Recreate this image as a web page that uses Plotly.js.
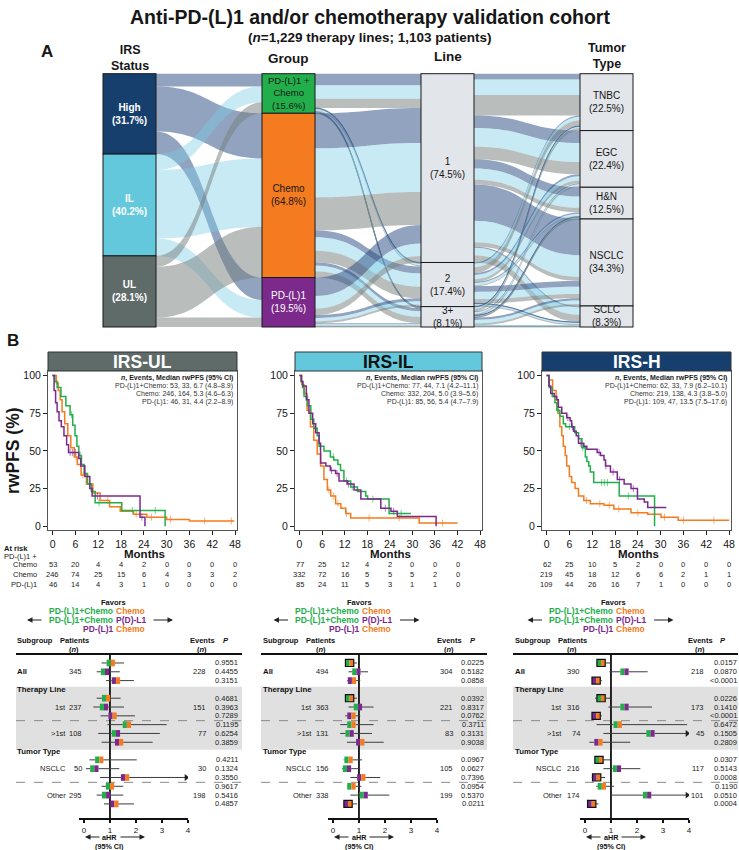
<!DOCTYPE html>
<html>
<head>
<meta charset="utf-8">
<script src="https://cdn.plot.ly/plotly-3.0.1.min.js"></script>
<style>html,body{margin:0;padding:0;background:#fff;}#chart{width:739px;height:850px;}</style>
</head>
<body>
<div id="chart"></div>
<script>
// ================= DATA =================
// Panel A (alluvial): therapy lines
const irsLabels = ['High', 'IL', 'UL'];
const groupLabels = ['PD-(L)1 +<br>Chemo', 'Chemo', 'PD-(L)1'];
const lineLabels = ['1', '2', '3+'];
const tumorLabels = ['TNBC', 'EGC', 'H&N', 'NSCLC', 'SCLC'];
// group x line counts, per IRS level
const glHigh = [[56, 4, 2], [170, 34, 15], [90, 14, 5]];
const glIL   = [[65, 9, 3], [238, 65, 29], [60, 16, 9]];
const glUL   = [[45, 6, 2], [160, 56, 30], [32, 10, 4]];
// line x tumor counts, per IRS level
const ltHigh = [[28, 60, 45, 176, 7], [6, 10, 6, 28, 2], [2, 5, 3, 12, 0]];
const ltIL   = [[75, 92, 55, 105, 36], [17, 20, 10, 35, 8], [8, 8, 5, 16, 4]];
const ltUL   = [[100, 60, 22, 20, 35], [28, 13, 5, 20, 6], [12, 7, 3, 10, 4]];
const totalPatients = 1103;

// Panel B: Kaplan-Meier curves (months, rwPFS %)
const kmPanelNames = ['IRS-UL', 'IRS-IL', 'IRS-H'];
const pcT_UL = [0, 0.6, 1.2, 2.2, 3.5, 4.6, 5.3, 5.9, 6.4, 6.9, 7.6, 8.3, 9.2, 10.2, 11.2, 18.2, 29.6];
const pcS_UL = [100, 96, 92, 86, 80, 74, 67, 60, 53, 47, 41, 35, 28, 23, 15.5, 10.5, 0];
const cT_UL = [0, 1.0, 1.5, 2.0, 2.5, 3.2, 4.0, 4.8, 5.7, 6.5, 7.5, 8.9, 10.6, 12.5, 15.0, 17.8, 21.3, 24.8, 30.0, 36.0, 47.8];
const cS_UL = [100, 95, 90, 84, 76, 68, 60, 52, 46, 41, 34, 28, 22, 17, 13, 10, 8, 6, 4.5, 3.5, 3.5];
const pT_UL = [0, 0.4, 0.8, 1.2, 1.7, 2.3, 3.0, 3.7, 4.2, 6.9, 7.4, 8.5, 9.8, 10.4, 23.0, 24.3];
const pS_UL = [100, 90, 82, 76, 70, 66, 60, 54, 49, 45, 40, 33, 25, 20, 6, 0];

const pcT_IL = [0, 0.4, 0.8, 1.2, 2.1, 3.0, 3.8, 4.7, 5.2, 6.5, 8.2, 9.1, 10.2, 10.9, 11.8, 13.6, 15.4, 17.6, 18.1, 23.8, 29.6];
const pcS_IL = [100, 96, 92, 86, 80, 71, 65, 60, 53, 50, 46, 44, 41, 37, 30, 26, 23, 20, 18, 8.5, 8.5];
const cT_IL = [0, 0.6, 1.2, 2.0, 2.9, 3.8, 4.7, 5.6, 6.5, 7.4, 8.3, 9.6, 11.0, 12.3, 13.6, 31.8, 42.0];
const cS_IL = [100, 94, 88, 77, 66, 57, 48, 40, 31, 24, 20, 15, 12, 8.5, 5.5, 2.2, 2.2];
const pT_IL = [0, 0.5, 0.9, 1.8, 2.5, 3.5, 4.3, 5.2, 5.6, 7.0, 8.2, 9.6, 10.5, 12.7, 14.5, 16.3, 21.6, 24.3, 26.0, 36.3];
const pS_IL = [100, 96, 93, 84, 75, 68, 62, 55, 42, 40, 37, 35, 30, 28, 24, 18, 12, 10, 6.5, 0];

const pcT_H = [0, 0.7, 1.5, 2.2, 2.7, 3.5, 4.4, 5.0, 7.4, 8.4, 9.3, 10.2, 10.6, 11.1, 11.5, 12.4, 19.1, 28.4];
const pcS_H = [100, 92, 86, 82, 77, 73, 68, 66, 62, 58, 52, 46, 43, 40, 36, 29, 20, 0];
const cT_H = [0, 0.7, 1.6, 2.5, 3.0, 3.5, 4.0, 4.4, 4.9, 5.3, 6.0, 6.6, 7.5, 8.4, 9.8, 11.5, 15.1, 17.7, 22.2, 26.6, 30.1, 34.6, 48.0];
const cS_H = [100, 97, 90, 84, 75, 66, 60, 53, 47, 40, 33, 29, 25, 20, 17, 15, 14, 11.5, 9, 8, 6, 4, 4];
const pT_H = [0, 0.6, 1.1, 2.0, 2.7, 3.1, 4.0, 5.3, 6.2, 6.6, 7.1, 7.8, 8.4, 9.8, 10.6, 13.3, 14.2, 15.1, 15.5, 16.8, 18.6, 20.4, 22.2, 23.9, 25.7, 26.6, 31.5];
const pS_H = [100, 93, 88, 86, 84, 79, 75, 72, 70, 66, 63, 60, 55, 53, 51, 49, 47, 44, 40, 36, 31, 28, 25, 18, 16, 12.5, 12.5];

// censoring times
const pcCens_UL = [5.0, 7.3, 12.2, 21.0, 27.0];
const cCens_UL = [6.2, 8.0, 14.5, 22.0, 26.0, 31.0, 40.0, 47.0];
const pCens_UL = [4.6, 5.2, 6.0, 11.8, 23.5];
const pcCens_IL = [5.5, 9.0, 12.5, 14.0, 19.5, 27.0];
const cCens_IL = [7.8, 9.0, 10.2, 12.5, 18.5, 26.5, 38.0];
const pCens_IL = [8.5, 10.0, 13.0, 22.8, 25.0];
const pcCens_H = [3.0, 6.0, 9.5, 14.5, 15.2, 16.0, 21.5];
const cCens_H = [10.5, 14.0, 16.5, 19.0, 24.0, 31.0, 36.0, 44.0];
const pCens_H = [5.6, 6.8, 9.0, 13.8, 15.6, 17.5, 19.2, 22.8];

// legend stats: n, events, median, lower, upper
const statPC_UL = [53, 33, 6.7, 4.8, 8.9], statC_UL = [246, 164, 5.3, 4.6, 6.3], statP_UL = [46, 31, 4.4, 2.2, 8.9];
const statPC_IL = [77, 44, 7.1, 4.2, 11.1], statC_IL = [332, 204, 5.0, 3.9, 5.6], statP_IL = [85, 56, 5.4, 4.7, 7.9];
const statPC_H = [62, 33, 7.9, 6.2, 10.1], statC_H = [219, 138, 4.3, 3.8, 5.0], statP_H = [109, 47, 13.5, 7.5, 17.6];

// number at risk
const riskMonths = [0, 6, 12, 18, 24, 30, 36, 42, 48];
const arPC_UL = [53, 20, 4, 4, 2, 0, 0, 0, 0], arC_UL = [246, 74, 25, 15, 6, 4, 3, 3, 2], arP_UL = [46, 14, 4, 3, 1, 0, 0, 0, 0];
const arPC_IL = [77, 25, 12, 4, 2, 0, 0, 0], arC_IL = [332, 72, 16, 5, 5, 5, 2, 0], arP_IL = [85, 24, 11, 5, 3, 1, 1, 0];
const arPC_H = [62, 25, 10, 5, 2, 0, 0, 0, 0], arC_H = [219, 45, 18, 12, 6, 6, 2, 1, 1], arP_H = [109, 44, 26, 16, 7, 1, 0, 0, 0];

// Forest plots: rows = [All, 1st, >1st, NSCLC, Other] x [PC vs C, PC vs P, P vs C]
const subgroups = ['All', '1st', '>1st', 'NSCLC', 'Other'];
const nUL = [345, 237, 108, 50, 295], evUL = [228, 151, 77, 30, 198];
const nIL = [494, 363, 131, 156, 338], evIL = [304, 221, 83, 105, 199];
const nH = [390, 316, 74, 216, 174], evH = [218, 173, 45, 117, 101];
const hrUL = [1.03, 0.81, 1.23, 0.85, 0.77, 1.10, 1.65, 1.23, 1.35, 0.59, 0.40, 1.58, 1.00, 0.85, 1.17];
const loUL = [0.68, 0.49, 0.85, 0.49, 0.36, 0.64, 0.90, 0.55, 0.68, 0.21, 0.08, 0.62, 0.68, 0.49, 0.77];
const hiUL = [1.54, 1.38, 1.92, 1.41, 1.54, 1.96, 3.18, 2.92, 2.64, 2.03, 1.36, 5.00, 1.51, 1.51, 1.92];
const pUL = ['0.9551', '0.4455', '0.3151', '0.4681', '0.3963', '0.7289', '0.1195', '0.6254', '0.3859', '0.4211', '0.1324', '0.3550', '0.9617', '0.5416', '0.4857'];
const hrIL = [0.64, 0.90, 0.73, 0.64, 0.96, 0.71, 0.71, 0.64, 1.05, 0.60, 0.54, 1.09, 0.71, 1.18, 0.58];
const loIL = [0.47, 0.60, 0.54, 0.47, 0.60, 0.47, 0.28, 0.28, 0.54, 0.41, 0.35, 0.67, 0.54, 0.67, 0.41];
const hiIL = [0.92, 1.35, 1.05, 0.92, 1.56, 1.05, 1.56, 1.50, 1.95, 1.12, 1.05, 1.82, 1.09, 2.17, 0.92];
const pIL = ['0.0225', '0.5182', '0.0858', '0.0392', '0.8317', '0.0762', '0.3711', '0.3131', '0.9038', '0.0967', '0.0627', '0.7396', '0.0954', '0.5370', '0.0211'];
const hrH = [0.62, 1.52, 0.43, 0.62, 1.52, 0.43, 1.26, 2.52, 0.52, 0.54, 1.23, 0.45, 0.65, 2.39, 0.26];
const loH = [0.43, 0.94, 0.30, 0.39, 0.90, 0.26, 0.45, 0.71, 0.17, 0.35, 0.71, 0.26, 0.43, 0.97, 0.13];
const hiH = [0.97, 2.41, 0.65, 0.97, 2.58, 0.65, 3.94, 5.00, 1.74, 0.97, 2.13, 0.77, 1.12, 5.00, 0.52];
const pH = ['0.0157', '0.0870', '<0.0001', '0.0226', '0.1410', '<0.0001', '0.6472', '0.1505', '0.2809', '0.0307', '0.5143', '0.0008', '0.1190', '0.0510', '0.0004'];

// ================= STYLE / HELPERS =================
const FONT = '"Liberation Sans", Arial, Helvetica, sans-serif';
const W = 739, H = 850;
const px = v => v / W, py = v => 1 - v / H;
const sum = a => a.reduce((s, v) => s + v, 0);
const esc = s => String(s).replace(/&/g, '&amp;').replace(/</g, '&lt;').replace(/>/g, '&gt;');
const GREEN = '#22ae4b', ORANGE = '#f47b20', PURPLE = '#7b2a8c';
const IRS_COL = ['#173f6e', '#63c8dc', '#5f6b68'];
const LINK_COL = ['rgba(38,72,128,0.5)', 'rgba(125,205,230,0.42)', 'rgba(115,126,124,0.5)'];
const GRAY_NODE = '#e2e5e9';
const TXT = '#161616';

const data = [], annotations = [], shapes = [];
function fnt(size, color) { return {family: FONT, size: size, color: color || TXT}; }
function ann(text, x, y, size, o) {
  annotations.push(Object.assign({text: text, x: x, y: y, xref: 'paper', yref: 'paper', showarrow: false,
    xanchor: 'center', yanchor: 'middle', borderpad: 0, borderwidth: 0, font: fnt(size)}, o || {}));
}

// ================= TITLES =================
const glAll = [glHigh, glIL, glUL];
const ltAll = [ltHigh, ltIL, ltUL];
const irsTot = glAll.map(m => sum(m.map(sum)));
const groupTot = groupLabels.map((_, g) => sum(glAll.map(m => sum(m[g]))));
const lineTot = lineLabels.map((_, l) => sum(glAll.map(m => sum(m.map(r => r[l])))));
const tumorTot = tumorLabels.map((_, t) => sum(ltAll.map(m => sum(m.map(r => r[t])))));
const total = sum(irsTot);
const fmtK = n => n.toLocaleString('en-US');

ann('<b>Anti-PD-(L)1 and/or chemotherapy validation cohort</b>', 0.5, py(17), 19.5);
ann('<b>(<i>n</i>=' + fmtK(total) + ' therapy lines; ' + fmtK(totalPatients) + ' patients)</b>', 0.5, py(38), 13.5);
ann('<b>A</b>', px(47), py(51), 17);
ann('<b>B</b>', px(13), py(340), 17);

// ================= SANKEY =================
const SK = {x0: 103, x1: 633, y0: 73.7, y1: 327};
const cols = [irsTot, groupTot, lineTot, tumorTot];
const colNames = [irsLabels, groupLabels, lineLabels, tumorLabels];
const colColors = [IRS_COL, [GREEN, ORANGE, PURPLE], [GRAY_NODE, GRAY_NODE, GRAY_NODE], tumorLabels.map(() => GRAY_NODE)];
const nodeX = [0.05, 0.35, 0.65, 0.95];
const nodeLabels = [], nodeColors = [], nx = [], ny = [], offs = [];
let off = 0;
cols.forEach((c, ci) => {
  offs.push(off);
  let cum = 0;
  c.forEach((v, i) => {
    nodeLabels.push(colNames[ci][i].replace(/<br>/g, ' '));
    nodeColors.push(colColors[ci][i]);
    nx.push(nodeX[ci]);
    const yc = (cum + v / 2) / total;
    ny.push(yc);
    cum += v;
    const pct = (v / total * 100).toFixed(1);
    let color = TXT, bold = false;
    if (ci === 0) { color = '#fff'; bold = true; }
    if (ci === 1 && i === 2) color = '#fff';
    const txt = esc(colNames[ci][i]).replace(/&lt;br&gt;/g, '<br>') + '<br>(' + pct + '%)';
    const fs = ci === 1 && i === 0 ? 9.5 : 10;
    ann(bold ? '<b>' + txt + '</b>' : txt,
        px(SK.x0 + nodeX[ci] * (SK.x1 - SK.x0)), py(SK.y0 + yc * (SK.y1 - SK.y0)), fs, {font: fnt(fs, color)});
  });
  off += c.length;
});
const src = [], tgt = [], val = [], lcol = [];
function link(s, t, v, k) { if (v > 0) { src.push(s); tgt.push(t); val.push(v); lcol.push(LINK_COL[k]); } }
glAll.forEach((m, k) => m.forEach((row, g) => link(offs[0] + k, offs[1] + g, sum(row), k)));
groupLabels.forEach((_, g) => lineLabels.forEach((_, l) => glAll.forEach((m, k) => link(offs[1] + g, offs[2] + l, m[g][l], k))));
lineLabels.forEach((_, l) => tumorLabels.forEach((_, t) => ltAll.forEach((m, k) => link(offs[2] + l, offs[3] + t, m[l][t], k))));

data.push({
  type: 'sankey', arrangement: 'fixed', hoverinfo: 'skip',
  domain: {x: [px(SK.x0), px(SK.x1)], y: [py(SK.y1), py(SK.y0)]},
  node: {pad: 0, thickness: 53, label: nodeLabels, color: nodeColors, x: nx, y: ny,
         line: {color: '#1a1a1a', width: 1}, hoverinfo: 'skip'},
  link: {source: src, target: tgt, value: val, color: lcol, hoverinfo: 'skip'},
  textfont: {size: 1, color: 'rgba(0,0,0,0)'}
});
ann('<b>IRS<br>Status</b>', px(129.5), py(73), 12.5, {yanchor: 'bottom'});
ann('<b>Group</b>', px(288.5), py(58), 13.5);
ann('<b>Line</b>', px(447.5), py(57), 13.5);
ann('<b>Tumor<br>Type</b>', px(606.5), py(71), 12.5, {yanchor: 'bottom'});

// ================= KAPLAN-MEIER =================
function stepAt(t, s, c) { let v = s[0]; for (let i = 0; i < t.length; i++) { if (t[i] <= c) v = s[i]; } return v; }
const kmPanels = [
  {curves: [[cT_UL, cS_UL, cCens_UL, ORANGE], [pcT_UL, pcS_UL, pcCens_UL, GREEN], [pT_UL, pS_UL, pCens_UL, PURPLE]],
   stats: [statPC_UL, statC_UL, statP_UL], risk: [arPC_UL, arC_UL, arP_UL], bar: IRS_COL[2], barTxt: '#fff'},
  {curves: [[cT_IL, cS_IL, cCens_IL, ORANGE], [pcT_IL, pcS_IL, pcCens_IL, GREEN], [pT_IL, pS_IL, pCens_IL, PURPLE]],
   stats: [statPC_IL, statC_IL, statP_IL], risk: [arPC_IL, arC_IL, arP_IL], bar: IRS_COL[1], barTxt: '#111'},
  {curves: [[cT_H, cS_H, cCens_H, ORANGE], [pcT_H, pcS_H, pcCens_H, GREEN], [pT_H, pS_H, pCens_H, PURPLE]],
   stats: [statPC_H, statC_H, statP_H], risk: [arPC_H, arC_H, arP_H], bar: IRS_COL[0], barTxt: '#fff'}
];
const kmDomX = [[48, 237], [295, 482], [542, 731]];
const KMY = [371, 530];
const layoutAxes = {};
const statNames = ['PD-(L)1+Chemo', 'Chemo', 'PD-(L)1'];
kmPanels.forEach((P, i) => {
  const sfx = i === 0 ? '' : String(i + 1);
  const xa = 'x' + sfx, ya = 'y' + sfx;
  P.curves.forEach(([t, s, cens, col]) => {
    data.push({type: 'scatter', mode: 'lines', x: t, y: s, xaxis: xa, yaxis: ya, hoverinfo: 'skip',
               line: {shape: 'hv', color: col, width: 1.5}});
    data.push({type: 'scatter', mode: 'markers', x: cens, y: cens.map(c => stepAt(t, s, c)), xaxis: xa, yaxis: ya,
               hoverinfo: 'skip', marker: {symbol: 'line-ns-open', size: 5, color: col, opacity: 0.6, line: {width: 1, color: col}}});
  });
  layoutAxes['xaxis' + sfx] = {domain: [px(kmDomX[i][0]), px(kmDomX[i][1])], anchor: ya, range: [-1.2, 48.5],
    tickvals: riskMonths, ticks: 'outside', ticklen: 4, tickcolor: '#222', showline: true, mirror: true,
    linecolor: '#555', linewidth: 1, showgrid: false, zeroline: false, tickfont: fnt(10.5), fixedrange: true};
  layoutAxes['yaxis' + sfx] = {domain: [py(KMY[1]), py(KMY[0])], anchor: xa, range: [-2.5, 103],
    tickvals: [0, 25, 50, 75, 100], ticks: 'outside', ticklen: 4, tickcolor: '#222', showline: true, mirror: true,
    linecolor: '#555', linewidth: 1, showgrid: false, zeroline: false, tickfont: fnt(10.5), fixedrange: true};
  shapes.push({type: 'rect', xref: xa + ' domain', yref: ya + ' domain', x0: 0, x1: 1, y0: 1, y1: 1 + 19 / 159,
               fillcolor: P.bar, line: {color: '#333', width: 1}});
  annotations.push({text: '<b>' + kmPanelNames[i] + '</b>', xref: xa + ' domain', yref: ya + ' domain', x: 0.5, y: 1 + 9.5 / 159,
               showarrow: false, xanchor: 'center', yanchor: 'middle', borderpad: 0, font: fnt(17.5, P.barTxt)});
  const rightX = px(kmDomX[i][1] - 4);
  ann('<b><i>n</i>, Events, Median rwPFS (95% CI)</b>', rightX, py(378), 7, {xanchor: 'right', font: fnt(7, '#222')});
  P.stats.forEach((st, j) => {
    ann(statNames[j] + ': ' + st[0] + ', ' + st[1] + ', ' + st[2].toFixed(1) + ' (' + st[3].toFixed(1) + '–' + st[4].toFixed(1) + ')',
        rightX, py(386 + 8 * j), 7, {xanchor: 'right', font: fnt(7, '#333')});
  });
  ann('<b>Months</b>', px((kmDomX[i][0] + kmDomX[i][1]) / 2 + 2), py(554), 11.5);
  P.risk.forEach((row, j) => {
    row.forEach((v, k) => {
      annotations.push({text: String(v), x: riskMonths[k], xref: xa, y: py(564 + 10 * j), yref: 'paper',
        showarrow: false, xanchor: 'center', yanchor: 'middle', borderpad: 0, font: fnt(7.5, '#222')});
    });
  });
});
ann('<b>rwPFS (%)</b>', px(13), py(451), 17.5, {textangle: -90});
ann('<b>At risk</b>', px(4), py(548.5), 7.5, {xanchor: 'left'});
ann('PD-(L)1 +', px(37), py(556.5), 7.5, {xanchor: 'right', font: fnt(7.5, '#222')});
ann('Chemo', px(37), py(564), 7.5, {xanchor: 'right', font: fnt(7.5, '#222')});
ann('Chemo', px(37), py(574), 7.5, {xanchor: 'right', font: fnt(7.5, '#222')});
ann('PD-(L)1', px(37), py(584), 7.5, {xanchor: 'right', font: fnt(7.5, '#222')});

// ================= FOREST PLOTS =================
const forestSets = [
  {hr: hrUL, lo: loUL, hi: hiUL, p: pUL, n: nUL, ev: evUL},
  {hr: hrIL, lo: loIL, hi: hiIL, p: pIL, n: nIL, ev: evIL},
  {hr: hrH, lo: loH, hi: hiH, p: pH, n: nH, ev: evH}
];
const FP = [
  {zero: 84, dom: [79, 188], subR: 65.5, nR: 82, evR: 206, pR: 238, hL: 17, patL: 60, nHc: 74, evC: 202, pHd: 223, lineL: 16, lineR: 242, fav: 114},
  {zero: 333, dom: [328, 437], subR: 311.5, nR: 328.5, evR: 453, pR: 484, hL: 263, patL: 306, nHc: 321, evC: 449, pHd: 470, lineL: 261, lineR: 487, fav: 360.5},
  {zero: 585, dom: [580, 689], subR: 562, nR: 580, evR: 704, pR: 737, hL: 515, patL: 558, nHc: 572, evC: 700, pHd: 720, lineL: 513, lineR: 738, fav: 614.5}
];
const rowIdx = [0, 1, 2, 4, 5, 6, 7, 8, 9, 11, 12, 13, 14, 15, 16];
const midRow = [1, 5, 8, 12, 15];
const compColors = [[GREEN, ORANGE], [GREEN, PURPLE], [PURPLE, ORANGE]];
const HALF = 0.16, XMAX = 4.0, ARROW_X = 3.93;
const pNum = s => s.trim().startsWith('<') ? parseFloat(s.replace('<', '')) / 2 : parseFloat(s);

forestSets.forEach((F, fi) => {
  const L = FP[fi];
  const xa = 'x' + (4 + fi), ya = 'y' + (4 + fi);
  layoutAxes['xaxis' + (4 + fi)] = {domain: [px(L.dom[0]), px(L.dom[1])], anchor: ya, range: [-0.19, XMAX],
    tickvals: [0, 1, 2, 3, 4], ticks: 'outside', ticklen: 3, tickwidth: 1.5, tickcolor: '#111', showline: true,
    linecolor: '#111', linewidth: 2, showgrid: false, zeroline: false, tickfont: fnt(8), fixedrange: true};
  layoutAxes['yaxis' + (4 + fi)] = {domain: [py(818), py(654)], anchor: xa, range: [17.6, -1.02],
    visible: false, fixedrange: true};
  shapes.push({type: 'rect', xref: 'paper', yref: ya, x0: px(L.lineL), x1: px(L.lineR), y0: 2.7, y1: 9.85,
               fillcolor: '#e0e0e0', line: {width: 0}, layer: 'below'});
  [6.55, 13.55].forEach(yv => shapes.push({type: 'line', xref: 'paper', yref: ya, x0: px(L.lineL), x1: px(L.lineR),
               y0: yv, y1: yv, line: {color: '#8a8a8a', width: 1, dash: 'dash'}, layer: 'below'}));
  shapes.push({type: 'line', xref: 'paper', yref: ya + ' domain', x0: px(L.lineL), x1: px(L.lineR), y0: 1, y1: 1,
               line: {color: '#111', width: 2}});
  shapes.push({type: 'line', xref: xa, yref: ya + ' domain', x0: 1, x1: 1, y0: 0, y1: 1,
               line: {color: '#111', width: 1.8}, layer: 'below'});
  const cx = [], cy = [], arX = [], arY = [];
  F.hr.forEach((h, i) => {
    const r = rowIdx[i];
    if (F.lo[i] < h - HALF) { cx.push(F.lo[i], h - HALF, null); cy.push(r, r, null); }
    const hiC = Math.min(F.hi[i], ARROW_X);
    if (hiC > h + HALF) { cx.push(h + HALF, hiC, null); cy.push(r, r, null); }
    if (F.hi[i] > XMAX) { arX.push(ARROW_X); arY.push(r); }
  });
  data.push({type: 'scatter', mode: 'lines', x: cx, y: cy, xaxis: xa, yaxis: ya, hoverinfo: 'skip',
             line: {color: '#3c3c3c', width: 1}});
  data.push({type: 'scatter', mode: 'markers', x: arX, y: arY, xaxis: xa, yaxis: ya, hoverinfo: 'skip',
             marker: {symbol: 'triangle-right', size: 6, color: '#222'}});
  compColors.forEach((cc, c) => {
    const idx = F.hr.map((_, i) => i).filter(i => i % 3 === c);
    [0, 1].forEach(side => {
      data.push({type: 'bar', orientation: 'h', xaxis: xa, yaxis: ya, hoverinfo: 'skip',
        y: idx.map(i => rowIdx[i]), x: idx.map(() => HALF), base: idx.map(i => F.hr[i] - (side === 0 ? HALF : 0)),
        width: 0.76, marker: {color: cc[side], line: {width: 0}}});
    });
  });
  const sig = F.hr.map((_, i) => i).filter(i => pNum(F.p[i]) < 0.05);
  data.push({type: 'bar', orientation: 'h', xaxis: xa, yaxis: ya, hoverinfo: 'skip',
    y: sig.map(i => rowIdx[i]), x: sig.map(() => 2 * HALF), base: sig.map(i => F.hr[i] - HALF),
    width: 0.8, marker: {color: 'rgba(0,0,0,0)', line: {width: 1.2, color: '#111'}}});

  const hf = fnt(7.5, '#111');
  ann('<b>Subgroup</b>', px(L.hL), py(640), 7.5, {xanchor: 'left', font: hf});
  ann('<b>Patients</b>', px(L.patL), py(640), 7.5, {xanchor: 'left', font: hf});
  ann('<b>(<i>n</i>)</b>', px(L.nHc), py(649), 7.5, {font: hf});
  ann('<b>Events</b>', px(L.evC), py(640), 7.5, {font: hf});
  ann('<b>(<i>n</i>)</b>', px(L.evC), py(649), 7.5, {font: hf});
  ann('<b><i>P</i></b>', px(L.pHd), py(640), 7.5, {xanchor: 'left', font: hf});
  const rowAnn = (text, x, r, o) => annotations.push(Object.assign({text: text, x: x, y: r, xref: 'paper', yref: ya,
      showarrow: false, xanchor: 'right', yanchor: 'middle', borderpad: 0, borderwidth: 0, font: fnt(7.5, '#222')}, o || {}));
  rowAnn('<b>Therapy Line</b>', px(L.hL), 3, {xanchor: 'left', font: fnt(7.8, '#111')});
  rowAnn('<b>Tumor Type</b>', px(L.hL), 10, {xanchor: 'left', font: fnt(7.8, '#111')});
  subgroups.forEach((sg, s) => {
    if (s === 0) rowAnn('<b>' + sg + '</b>', px(L.hL), midRow[s], {xanchor: 'left', font: fnt(7.8, '#111')});
    else rowAnn(esc(sg), px(L.subR), midRow[s]);
    rowAnn(String(F.n[s]), px(L.nR), midRow[s]);
    rowAnn(String(F.ev[s]), px(L.evR), midRow[s]);
  });
  F.p.forEach((p, i) => rowAnn(esc(p), px(L.pR), rowIdx[i]));

  const fav = L.fav;
  ann('<b>Favors</b>', px(fav - 1), py(602), 7.5, {font: fnt(7.5, '#111')});
  const favRows = [[['PD-(L)1+Chemo', GREEN], ['Chemo', ORANGE]], [['PD-(L)1+Chemo', GREEN], ['P(D)-L1', PURPLE]], [['PD-(L)1', PURPLE], ['Chemo', ORANGE]]];
  favRows.forEach((fr, j) => {
    const yv = py(611.3 + 8.7 * j);
    ann('<b>' + fr[0][0] + '</b>', px(fav - 1.5), yv, 8.5, {xanchor: 'right', font: fnt(8.5, fr[0][1])});
    ann('<b>' + fr[1][0] + '</b>', px(fav + 1.5), yv, 8.5, {xanchor: 'left', font: fnt(8.5, fr[1][1])});
  });
  const arrowAnn = (head, tail, yv) => annotations.push({text: '', xref: 'paper', yref: 'paper', x: px(head), y: py(yv),
      axref: 'paper', ayref: 'paper', ax: px(tail), ay: py(yv), showarrow: true, arrowhead: 2, arrowsize: 1, arrowwidth: 1.1, arrowcolor: '#222'});
  arrowAnn(fav - 87, fav - 71, 620);
  arrowAnn(fav + 59, fav + 38, 620);
  const c1 = L.zero + 26;
  ann('<b>aHR</b>', px(c1), py(837), 7.2, {font: fnt(7.2, '#111')});
  ann('<b>(95% CI)</b>', px(c1), py(846), 7.2, {font: fnt(7.2, '#111')});
  arrowAnn(L.zero + 1, c1 - 9, 837);
  arrowAnn(c1 + 35, c1 + 9, 837);
});

const layout = Object.assign({
  width: W, height: H, margin: {l: 0, r: 0, t: 0, b: 0}, paper_bgcolor: '#fff', plot_bgcolor: 'rgba(0,0,0,0)',
  showlegend: false, barmode: 'overlay', font: {family: FONT, color: TXT},
  annotations: annotations, shapes: shapes
}, layoutAxes);

Plotly.newPlot('chart', data, layout, {displayModeBar: false, staticPlot: true});
</script>
</body>
</html>
